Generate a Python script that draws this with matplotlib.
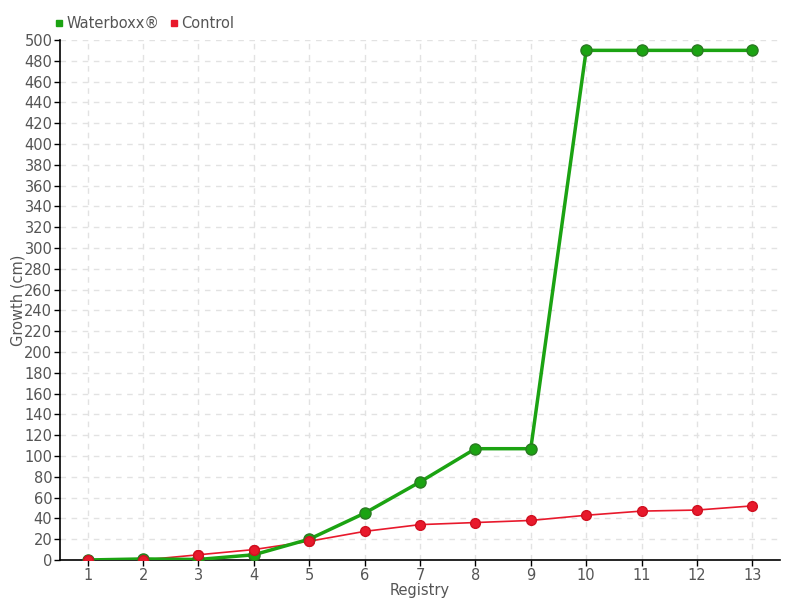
import matplotlib
matplotlib.use("Agg")
import matplotlib.pyplot as plt
from matplotlib.lines import Line2D

registry = list(range(1, 14))
waterboxx = [0, 1, 0.5, 5, 20, 45, 75, 107, 107, 490, 490, 490, 490]
control = [0, 0, 5, 10, 18, 27.5, 34, 36, 38, 43, 47, 48, 52]
y_ticks = list(range(0, 501, 20))

green = "#1ba312"
red = "#e8192c"
text_color = "#555555"

plt.rcParams['font.family'] = ['DejaVu Sans']

fig = plt.figure(figsize=(8, 6), dpi=100)
ax = fig.add_axes([0.075, 0.0667, 0.9, 0.8667])

ax.plot(registry, control, color=red, lw=1.2, marker='o', ms=7,
        markerfacecolor=red, markeredgecolor="#d01020", zorder=3)
ax.plot(registry, waterboxx, color=green, lw=2.5, marker='o', ms=8,
        markerfacecolor=green, markeredgecolor="#2a7a22", zorder=4)
# control markers drawn over the green line at the start, as in the reference
ax.plot(registry[:5], control[:5], ls='none', marker='o', ms=7,
        markerfacecolor=red, markeredgecolor="#d01020", zorder=5)

ax.set_xlim(0.5, 13.5)
ax.set_ylim(0, 500)
ax.set_xticks(registry)
ax.set_yticks(y_ticks)
ax.tick_params(axis='both', colors='black', labelcolor=text_color, labelsize=10.5,
               length=4, width=1, pad=1.5)
ax.grid(True, ls=(0, (4, 4)), color="#e2e2e2", lw=1)
ax.set_axisbelow(True)
for s in ['top', 'right']:
    ax.spines[s].set_visible(False)
for s in ['left', 'bottom']:
    ax.spines[s].set_color('black')
    ax.spines[s].set_linewidth(1.2)

ax.set_xlabel("Registry", color=text_color, fontsize=10.5, labelpad=0.5)
ax.set_ylabel("Growth (cm)", color=text_color, fontsize=10.5, labelpad=-1)

handles = [Line2D([], [], ls='none', marker='s', ms=5, color=green),
           Line2D([], [], ls='none', marker='s', ms=5, color=red)]
fig.legend(handles, ["Waterboxx®", "Control"], loc='upper left',
           bbox_to_anchor=(0.05, 0.995), ncol=2, frameon=False,
           handletextpad=0.1, columnspacing=0.6, fontsize=10.5,
           labelcolor=text_color, handlelength=0.8)

fig.savefig("out.png", dpi=100)
